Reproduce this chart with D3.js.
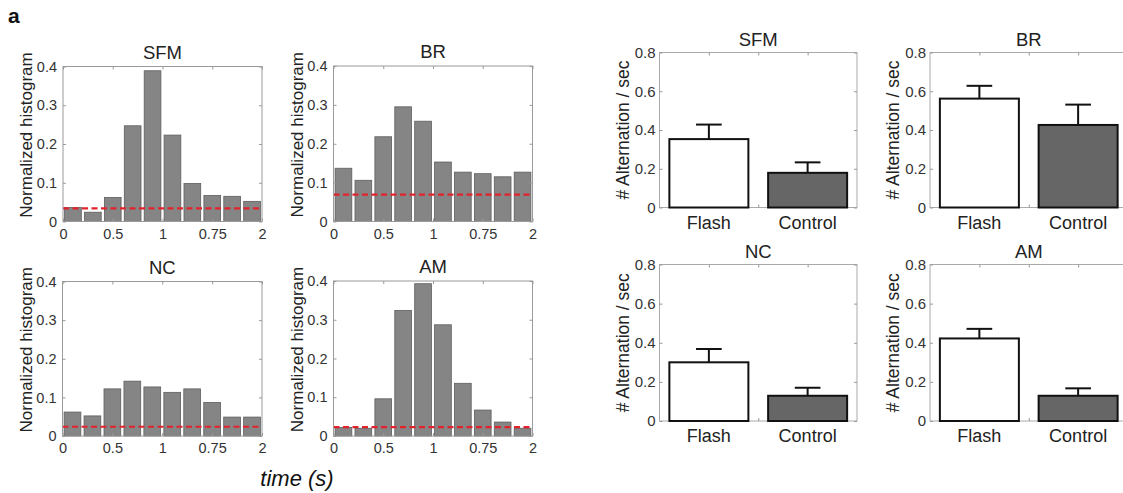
<!DOCTYPE html>
<html><head><meta charset="utf-8">
<script src="https://cdn.jsdelivr.net/npm/d3@7/dist/d3.min.js"></script>
<style>
html,body{margin:0;padding:0;background:#fff;}
svg{display:block;font-family:"Liberation Sans",Arial,Helvetica,sans-serif;}
</style></head>
<body>
<svg id="c" width="1123" height="493"></svg>
<script>
// ---- data ----
const histPanels = ["SFM", "BR", "NC", "AM"];
const sfmHist = [0.036, 0.024, 0.062, 0.247, 0.389, 0.223, 0.098, 0.067, 0.065, 0.052];
const brHist  = [0.137, 0.106, 0.218, 0.295, 0.258, 0.153, 0.127, 0.123, 0.115, 0.127];
const ncHist  = [0.062, 0.052, 0.122, 0.142, 0.127, 0.113, 0.122, 0.087, 0.049, 0.049];
const amHist  = [0.022, 0.020, 0.096, 0.324, 0.393, 0.287, 0.136, 0.067, 0.036, 0.020];
const chanceLevel = [0.034, 0.069, 0.024, 0.023];
const histXTickLabels = ["0", "0.5", "1", "0.75", "2"];
const histXTickPos = [0, 0.25, 0.5, 0.75, 1];
const histYTicks = [0, 0.1, 0.2, 0.3, 0.4];

const barPanels = ["SFM", "BR", "NC", "AM"];
const conditions = ["Flash", "Control"];
const sfmAlt = [0.353, 0.179], sfmErr = [0.075, 0.054];
const brAlt  = [0.562, 0.426], brErr  = [0.066, 0.105];
const ncAlt  = [0.300, 0.129], ncErr  = [0.068, 0.041];
const amAlt  = [0.422, 0.129], amErr  = [0.049, 0.038];
const barYTicks = [0, 0.2, 0.4, 0.6, 0.8];
const barXTicks = [1, 1.5, 2];

const histData = [sfmHist, brHist, ncHist, amHist];
const altData = [sfmAlt, brAlt, ncAlt, amAlt];
const errData = [sfmErr, brErr, ncErr, amErr];

// ---- layout ----
const svg = d3.select("#c");
const histBoxes = [
  {x: 63, y: 66.5, w: 199, h: 155},
  {x: 333.5, y: 66, w: 199, h: 155.5},
  {x: 62.5, y: 281.5, w: 199.5, h: 154.5},
  {x: 333.5, y: 281, w: 199, h: 155}
];
const barBoxes = [
  {x: 659.5, y: 52.5, w: 197.5, h: 155},
  {x: 930, y: 52.5, w: 197.5, h: 155},
  {x: 659.5, y: 264.5, w: 197.5, h: 156.5},
  {x: 930, y: 264.5, w: 197.5, h: 156.5}
];
const frameCol = "#9a9a9a", tickTxt = "#333";

svg.append("text").attr("x", 8).attr("y", 23).attr("font-size", 21).attr("font-weight", "bold").attr("fill", "#111").text("a");

histPanels.forEach((name, i) => {
  const b = histBoxes[i];
  const g = svg.append("g");
  const y = d3.scaleLinear().domain([0, 0.4]).range([b.y + b.h, b.y]);
  const xb = d3.scaleBand().domain(d3.range(10)).range([b.x, b.x + b.w]).paddingInner(0.16).paddingOuter(0.08);
  const xt = d3.scaleLinear().domain([0, 1]).range([b.x, b.x + b.w]);
  g.selectAll("rect.bar").data(histData[i]).join("rect")
    .attr("x", (d, j) => xb(j)).attr("width", xb.bandwidth())
    .attr("y", d => y(d)).attr("height", d => y(0) - y(d))
    .attr("fill", "#858585").attr("stroke", "#5e5e5e").attr("stroke-width", 0.8);
  g.append("line").attr("x1", b.x).attr("x2", b.x + b.w)
    .attr("y1", y(chanceLevel[i])).attr("y2", y(chanceLevel[i]))
    .attr("stroke", "#e3232c").attr("stroke-width", 2.2).attr("stroke-dasharray", "6,3.5");
  g.append("rect").attr("x", b.x).attr("y", b.y).attr("width", b.w).attr("height", b.h)
    .attr("fill", "none").attr("stroke", frameCol).attr("stroke-width", 1);
  const ya = d3.axisLeft(y).tickValues(histYTicks).tickFormat(d3.format("")).tickSize(-3).tickPadding(6);
  const yg = g.append("g").attr("transform", `translate(${b.x},0)`).call(ya);
  const yg2 = g.append("g").attr("transform", `translate(${b.x + b.w},0)`).call(d3.axisRight(y).tickValues(histYTicks).tickFormat("").tickSize(-3));
  const xa = d3.axisBottom(xt).tickValues(histXTickPos).tickFormat((d, j) => histXTickLabels[j]).tickSize(-3).tickPadding(6);
  const xg = g.append("g").attr("transform", `translate(0,${b.y + b.h})`).call(xa);
  const xg2 = g.append("g").attr("transform", `translate(0,${b.y})`).call(d3.axisTop(xt).tickValues(histXTickPos).tickFormat("").tickSize(-3));
  [yg, yg2, xg, xg2].forEach(a => {
    a.select(".domain").remove();
    a.selectAll(".tick line").attr("stroke", frameCol);
    a.selectAll(".tick text").attr("font-size", 14.5).attr("fill", tickTxt).attr("font-family", null);
  });
  xg.selectAll(".tick text").attr("dy", "0.71em").attr("y", 7);
  g.append("text").attr("x", b.x + b.w / 2).attr("y", b.y - 8).attr("text-anchor", "middle")
    .attr("font-size", 18.5).attr("fill", "#222").text(name);
  g.append("text").attr("transform", `translate(${b.x - 31},${b.y + b.h / 2 - 9}) rotate(-90)`)
    .attr("text-anchor", "middle").attr("font-size", 17).attr("fill", "#222").text("Normalized histogram");
});

svg.append("text").attr("x", 297).attr("y", 486).attr("text-anchor", "middle")
  .attr("font-size", 22).attr("font-style", "italic").attr("fill", "#111").text("time (s)");

barPanels.forEach((name, i) => {
  const b = barBoxes[i];
  const g = svg.append("g");
  const y = d3.scaleLinear().domain([0, 0.8]).range([b.y + b.h, b.y]);
  const x = d3.scaleLinear().domain([0.5, 2.5]).range([b.x, b.x + b.w]);
  const bw = x(0.8) - x(0);
  const rows = conditions.map((c, j) => ({c, pos: j + 1, v: altData[i][j], e: errData[i][j]}));
  g.append("rect").attr("x", b.x).attr("y", b.y).attr("width", b.w).attr("height", b.h)
    .attr("fill", "none").attr("stroke", "#aaa").attr("stroke-width", 1);
  const ya = d3.axisLeft(y).tickValues(barYTicks).tickFormat(d => d === 0 ? "0" : d3.format(".1f")(d)).tickSize(-3).tickPadding(4);
  const yg = g.append("g").attr("transform", `translate(${b.x},0)`).call(ya);
  const yg2 = g.append("g").attr("transform", `translate(${b.x + b.w},0)`).call(d3.axisRight(y).tickValues(barYTicks).tickFormat("").tickSize(-3));
  const xg = g.append("g").attr("transform", `translate(0,${b.y + b.h})`).call(d3.axisBottom(x).tickValues(barXTicks).tickFormat("").tickSize(-3));
  const xg2 = g.append("g").attr("transform", `translate(0,${b.y})`).call(d3.axisTop(x).tickValues(barXTicks).tickFormat("").tickSize(-3));
  [yg, yg2, xg, xg2].forEach(a => {
    a.select(".domain").remove();
    a.selectAll(".tick line").attr("stroke", "#999");
    a.selectAll(".tick text").attr("font-size", 15).attr("fill", tickTxt).attr("font-family", null);
  });
  g.selectAll("line.err").data(rows).join("line")
    .attr("x1", d => x(d.pos)).attr("x2", d => x(d.pos))
    .attr("y1", d => y(d.v)).attr("y2", d => y(d.v + d.e))
    .attr("stroke", "#111").attr("stroke-width", 2);
  g.selectAll("line.cap").data(rows).join("line")
    .attr("x1", d => x(d.pos - 0.13)).attr("x2", d => x(d.pos + 0.13))
    .attr("y1", d => y(d.v + d.e)).attr("y2", d => y(d.v + d.e))
    .attr("stroke", "#111").attr("stroke-width", 2);
  g.selectAll("rect.bar").data(rows).join("rect")
    .attr("x", d => x(d.pos - 0.4)).attr("width", bw)
    .attr("y", d => y(d.v)).attr("height", d => y(0) - y(d.v))
    .attr("fill", (d, j) => j === 0 ? "#ffffff" : "#666666")
    .attr("stroke", "#111").attr("stroke-width", 2);
  g.selectAll("text.xl").data(rows).join("text")
    .attr("x", d => x(d.pos)).attr("y", b.y + b.h + 21).attr("text-anchor", "middle")
    .attr("font-size", 18).attr("fill", "#222").text(d => d.c);
  g.append("text").attr("x", b.x + b.w / 2).attr("y", b.y - 7).attr("text-anchor", "middle")
    .attr("font-size", 18.5).attr("fill", "#222").text(name);
  g.append("text").attr("transform", `translate(${b.x - 31},${b.y + b.h / 2}) rotate(-90)`)
    .attr("text-anchor", "middle").attr("font-size", 17.5).attr("fill", "#222").text("# Alternation / sec");
});
</script>
</body></html>
